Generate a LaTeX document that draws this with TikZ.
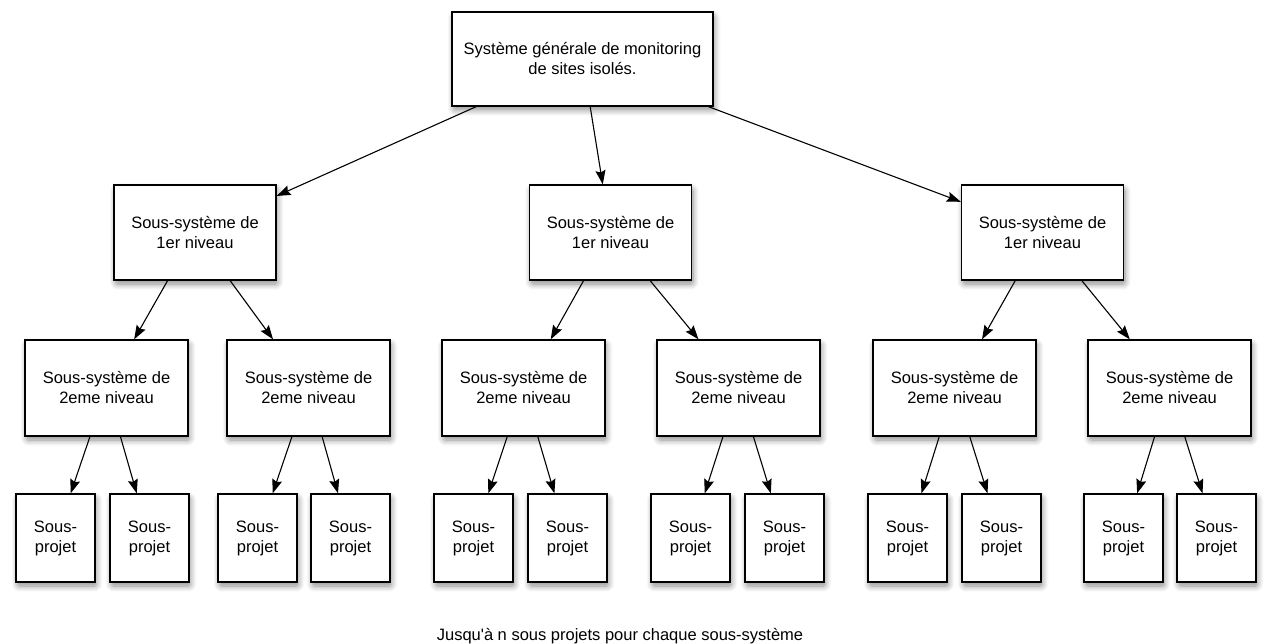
\documentclass[tikz,border=0pt]{standalone}
\usepackage{fontspec}
\setmainfont{Liberation Sans}[Ligatures=TeXOff]
\usetikzlibrary{arrows.meta,shadows.blur}
\tikzset{
  box/.style={draw=black, line width=1.3pt, fill=white, inner sep=0pt, align=center,
    font=\fontsize{16.5}{20}\selectfont,
    blur shadow={shadow xshift=1.5pt, shadow yshift=-4pt, shadow blur radius=6pt, shadow blur steps=8, shadow blur extra rounding=2pt, shadow opacity=45}},
  lbl/.style={align=center, font=\fontsize{16.5}{20}\selectfont, inner sep=0pt},
  arr/.style={-{Stealth[length=14pt,width=10pt,inset=2pt]}, line width=1.1pt},
}
\newcommand{\bx}[6]{%
  \node[box, minimum width=#4pt, minimum height=#5pt] (#1) at (#2,#3) {#6};
}
\begin{document}
\begin{tikzpicture}[x=1pt,y=-1pt]
\useasboundingbox (0,0) rectangle (1270,644);
\bx{top}{582.5}{59}{261}{94}{Système générale de monitoring\\de sites isolés.}
\bx{a}{195}{232.5}{162}{95}{Sous-système de\\1er niveau}
\bx{b}{610.5}{232.5}{162}{95}{Sous-système de\\1er niveau}
\bx{c}{1042.5}{232.5}{162}{95}{Sous-système de\\1er niveau}
\bx{a1}{106.5}{388}{163}{96}{Sous-système de\\2eme niveau}
\bx{a2}{308.5}{388}{163}{96}{Sous-système de\\2eme niveau}
\bx{b1}{523.5}{388}{163}{96}{Sous-système de\\2eme niveau}
\bx{b2}{738.5}{388}{163}{96}{Sous-système de\\2eme niveau}
\bx{c1}{954.5}{388}{163}{96}{Sous-système de\\2eme niveau}
\bx{c2}{1169.5}{388}{163}{96}{Sous-système de\\2eme niveau}
\bx{a1x}{55.5}{538}{79}{88}{Sous-\\projet}
\bx{a1y}{149.5}{538}{79}{88}{Sous-\\projet}
\bx{a2x}{257.5}{538}{79}{88}{Sous-\\projet}
\bx{a2y}{350.5}{538}{79}{88}{Sous-\\projet}
\bx{b1x}{473.5}{538}{79}{88}{Sous-\\projet}
\bx{b1y}{567.5}{538}{79}{88}{Sous-\\projet}
\bx{b2x}{690.5}{538}{79}{88}{Sous-\\projet}
\bx{b2y}{784.5}{538}{79}{88}{Sous-\\projet}
\bx{c1x}{907.5}{538}{79}{88}{Sous-\\projet}
\bx{c1y}{1001.5}{538}{79}{88}{Sous-\\projet}
\bx{c2x}{1123.5}{538}{79}{88}{Sous-\\projet}
\bx{c2y}{1216.5}{538}{79}{88}{Sous-\\projet}
\foreach \s/\t in {top/a,top/b,top/c,a/a1,a/a2,b/b1,b/b2,c/c1,c/c2,
  a1/a1x,a1/a1y,a2/a2x,a2/a2y,b1/b1x,b1/b1y,b2/b2x,b2/b2y,c1/c1x,c1/c1y,c2/c2x,c2/c2y}
  \draw[arr] (\s) -- (\t);
\node[lbl, anchor=base] (cap) at (620,640) {Jusqu'à n sous projets pour chaque sous-système};
\end{tikzpicture}
\end{document}
